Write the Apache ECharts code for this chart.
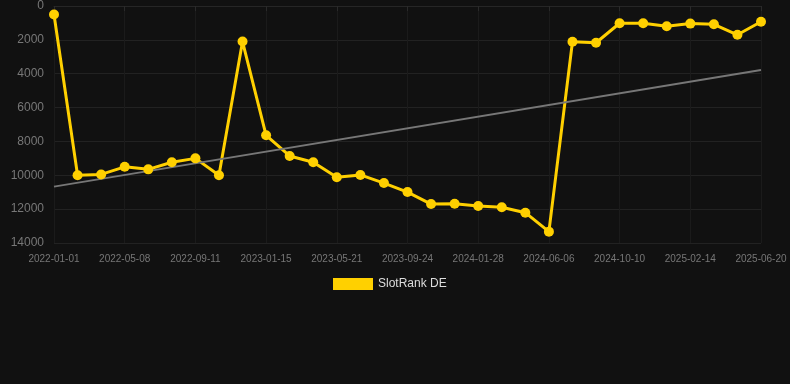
<!DOCTYPE html>
<html><head><meta charset="utf-8">
<script src="https://cdn.jsdelivr.net/npm/echarts@6/dist/echarts.min.js"></script>
<style>html,body{margin:0;padding:0;background:#111111;}#c{width:790px;height:384px;}</style>
</head><body><div id="c"></div>
<script>
var dates = ['2022-01-01','2022-02-12','2022-03-26','2022-05-08','2022-06-19','2022-07-31','2022-09-11','2022-10-23','2022-12-04','2023-01-15','2023-02-26','2023-04-09','2023-05-21','2023-07-02','2023-08-13','2023-09-24','2023-11-05','2023-12-17','2024-01-28','2024-03-10','2024-04-24','2024-06-06','2024-07-18','2024-08-29','2024-10-10','2024-11-21','2025-01-02','2025-02-14','2025-03-28','2025-05-09','2025-06-20'];
var rankDE = [500,10000,9950,9500,9650,9230,9000,10000,2100,7640,8860,9230,10120,9980,10460,10990,11700,11680,11810,11890,12210,13330,2110,2170,1020,1020,1200,1040,1080,1700,930];
var trendStart = 10670;
var trendEnd = 3780;
var yTicks = [0,2000,4000,6000,8000,10000,12000,14000];

var trend = [[dates[0], trendStart],[dates[dates.length-1], trendEnd]];
var chart = echarts.init(document.getElementById('c'));
chart.setOption({
  backgroundColor: '#111111',
  animation: false,
  grid: {left: 54, right: 29, top: 6, bottom: 141},
  legend: {
    data: ['SlotRank DE'], top: 273, left: 328,
    itemWidth: 40, itemHeight: 12, icon: 'rect',
    textStyle: {color: '#dddddd', fontSize: 12}
  },
  xAxis: {
    type: 'category', data: dates, boundaryGap: false,
    axisLine: {show: true, lineStyle: {color: '#262626'}},
    axisTick: {show: true, interval: 2, lineStyle: {color: '#2a2a2a'}},
    axisLabel: {color: '#777', fontSize: 10, interval: 2, margin: 11},
    splitLine: {show: true, interval: 2, lineStyle: {color: '#1b1b1b'}}
  },
  yAxis: {
    type: 'value', inverse: true, min: yTicks[0], max: yTicks[yTicks.length-1], interval: 2000,
    axisLine: {show: false}, axisTick: {show: false},
    axisLabel: {color: '#777', fontSize: 12, margin: 10, formatter: function(v){return String(v);}},
    splitLine: {lineStyle: {color: '#222'}}
  },
  series: [
    {
      name: 'SlotRank DE', type: 'line', data: rankDE,
      symbol: 'circle', symbolSize: 10,
      lineStyle: {color: '#FFD000', width: 3},
      itemStyle: {color: '#FFD000'}
    },
    {
      name: 'trend', type: 'line', data: trend, symbol: 'none',
      lineStyle: {color: '#777', width: 2}, silent: true
    }
  ]
});
</script></body></html>
